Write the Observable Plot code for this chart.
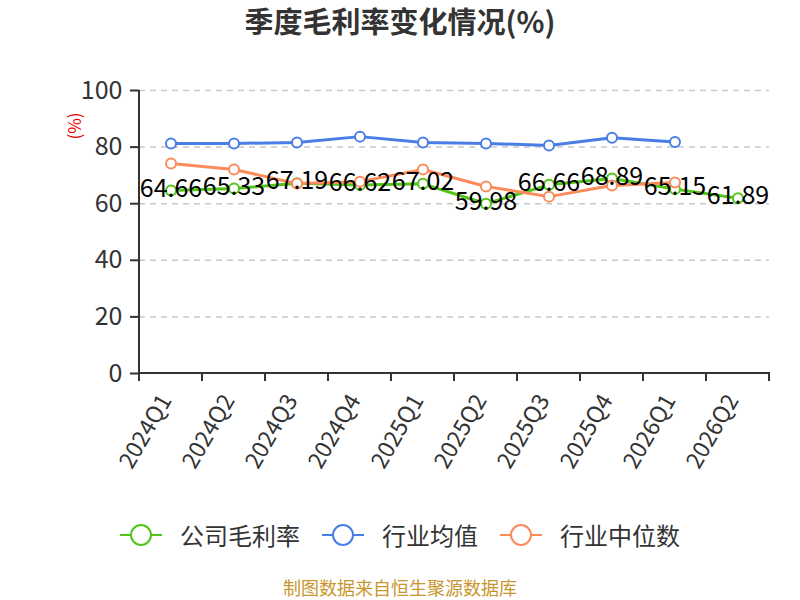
<!DOCTYPE html>
<html><head><meta charset="utf-8">
<script src="https://cdn.jsdelivr.net/npm/d3@7"></script>
<script src="https://cdn.jsdelivr.net/npm/@observablehq/plot@0.6"></script>
<style>
body{margin:0;width:800px;height:600px;position:relative;background:#fff;font-family:"Noto Sans CJK SC","Noto Sans",sans-serif;overflow:hidden}
#title{position:absolute;top:0px;left:0;width:800px;text-align:center;font-size:29px;line-height:40px;font-weight:bold;color:#333}
#chart{position:absolute;top:45px;left:0}
#legend{position:absolute;top:517px;left:0;width:800px;display:flex;justify-content:center;gap:22px;font-size:24px;color:#333}
#legend .it{display:flex;align-items:center;gap:18px}
#caption{position:absolute;top:577px;left:0;width:800px;text-align:center;font-size:18px;line-height:20px;color:#c8962e}
</style></head>
<body>
<div id="title">季度毛利率变化情况(%)</div>
<div id="chart"></div>
<div id="legend"></div>
<div id="caption">制图数据来自恒生聚源数据库</div>
<script>
const quarters = ["2024Q1","2024Q2","2024Q3","2024Q4","2025Q1","2025Q2","2025Q3","2025Q4","2026Q1","2026Q2"];
const companyValues = [64.66,65.33,67.19,66.62,67.02,59.98,66.66,68.89,65.15,61.89];
const industryAvg = [81.3,81.3,81.6,83.7,81.6,81.3,80.6,83.3,81.8];
const industryMedian = [74.2,72.1,67.1,67.8,72.1,66.1,62.5,66.4,67.5];
const seriesNames = ["公司毛利率","行业均值","行业中位数"];
const colors = ["#52c41a","#4a7ee6","#fb8b5b"];
const yTicks = [0,20,40,60,80,100];

const company = quarters.map((q,i)=>({q, v: companyValues[i]}));
const avg = industryAvg.map((v,i)=>({q: quarters[i], v}));
const med = industryMedian.map((v,i)=>({q: quarters[i], v}));

const W = 800, H = 440, ML = 139, MR = 31, MT = 45, MB = 112;

const axisFrame = (index, scales, values, dims) => {
  const g = d3.create("svg:g");
  const n = quarters.length;
  const x0 = dims.marginLeft, x1 = dims.width - dims.marginRight;
  const y0 = dims.height - dims.marginBottom, yTop = dims.marginTop;
  g.append("line").attr("x1", x0).attr("x2", x0).attr("y1", yTop).attr("y2", y0 + 1)
    .attr("stroke", "#333").attr("stroke-width", 2);
  g.append("line").attr("x1", x0 - 1).attr("x2", x1 + 1).attr("y1", y0).attr("y2", y0)
    .attr("stroke", "#333").attr("stroke-width", 2);
  for (let i = 0; i <= n; i++) {
    const x = x0 + (x1 - x0) * i / n;
    g.append("line").attr("x1", x).attr("x2", x).attr("y1", y0).attr("y2", y0 + 8)
      .attr("stroke", "#333").attr("stroke-width", 2);
  }
  return g.node();
};

const series = [[company, colors[0]], [avg, colors[1]], [med, colors[2]]];
const allMarks = [
  Plot.gridY(yTicks.filter(d=>d>0), {stroke:"#c8c8c8", strokeOpacity:1, strokeDasharray:"6,5", strokeWidth:1.5}),
  Plot.axisY(yTicks, {tickSize:9, tickPadding:8, fontSize:25, fill:"#333", stroke:"#333", strokeWidth:2, label:null}),
  Plot.axisX({tickSize:0, tickPadding:20, tickRotate:-60, fontSize:23, fill:"#333", label:null, dx:-5, dy:3}),
  axisFrame,
];
for (const [data, c] of series) {
  allMarks.push(Plot.line(data, {x:"q", y:"v", stroke:c, strokeWidth:3}));
}
for (const [data, c] of series) {
  allMarks.push(Plot.dot(data, {x:"q", y:"v", r:5, stroke:c, strokeWidth:2, fill:"#fff"}));
}
allMarks.push(Plot.text(company, {x:"q", y:"v", dy:-2, text: d=>d.v.toFixed(2), fontSize:25, fill:"#000"}));

const chart = Plot.plot({
  width: W, height: H,
  marginLeft: ML, marginRight: MR, marginTop: MT, marginBottom: MB,
  style: {fontFamily: '"Noto Sans CJK SC","Noto Sans",sans-serif', background:"transparent"},
  x: {type:"band", domain: quarters, padding: 0},
  y: {domain:[0,100]},
  marks: allMarks
});
document.getElementById("chart").appendChild(chart);

// y label "(%)"
const svg = d3.select(chart);
svg.append("text").attr("transform", `translate(76,${126-45}) rotate(-90)`)
  .attr("text-anchor","middle").attr("dominant-baseline","middle")
  .attr("fill","#e00").attr("font-size",17).text("(%)");

const legend = document.getElementById("legend");
seriesNames.forEach((name,i)=>{
  const it = document.createElement("div"); it.className="it";
  it.innerHTML = `<svg width="42" height="24"><line x1="0" x2="42" y1="12" y2="12" stroke="${colors[i]}" stroke-width="2"/><circle cx="21" cy="12" r="10" fill="#fff" stroke="${colors[i]}" stroke-width="2"/></svg><span>${name}</span>`;
  legend.appendChild(it);
});
</script>
</body></html>
